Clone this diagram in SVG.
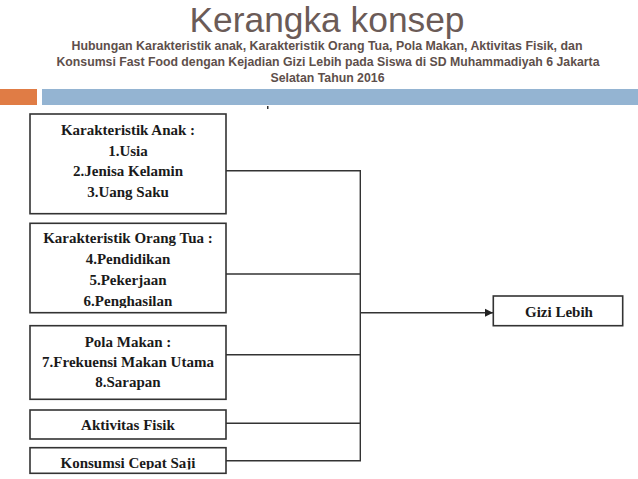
<svg xmlns="http://www.w3.org/2000/svg" width="638" height="479" viewBox="0 0 638 479">
<defs>
<style>
.title{font-family:"Liberation Sans",Arial,sans-serif;font-size:35px;fill:#6b5b57;text-anchor:middle}
.sub{font-family:"Liberation Sans Narrow","Liberation Sans",Arial,sans-serif;font-size:12.5px;font-weight:bold;fill:#5e4f4b;text-anchor:middle}
.box{fill:#fff;stroke:#333;stroke-width:1.6}
.lbl{font-family:"Liberation Serif","Times New Roman",serif;font-size:15px;font-weight:bold;fill:#1a1a1a;text-anchor:middle}
.conn{fill:none;stroke:#333;stroke-width:1.4}
</style>
<marker id="arr" markerWidth="9" markerHeight="9" refX="8" refY="4.5" orient="auto" markerUnits="userSpaceOnUse">
<path d="M0,0.5 L8,4.5 L0,8.5 Z" fill="#222"/>
</marker>
<clipPath id="c2"><rect x="30" y="223" width="196" height="85"/></clipPath>
<clipPath id="c5"><rect x="30" y="448" width="196" height="21.5"/></clipPath>
</defs>
<rect width="638" height="479" fill="#fff"/>
<g id="header">
<text class="title" x="327" y="32" textLength="275" lengthAdjust="spacingAndGlyphs">Kerangka konsep</text>
<text class="sub" x="327" y="50" textLength="511" lengthAdjust="spacingAndGlyphs">Hubungan Karakteristik anak, Karakteristik Orang Tua, Pola Makan, Aktivitas Fisik, dan</text>
<text class="sub" x="328" y="66" textLength="543" lengthAdjust="spacingAndGlyphs">Konsumsi Fast Food dengan Kejadian Gizi Lebih pada Siswa di SD Muhammadiyah 6 Jakarta</text>
<text class="sub" x="327.5" y="81.5" textLength="114" lengthAdjust="spacingAndGlyphs">Selatan Tahun 2016</text>
<rect x="0" y="89" width="37" height="16" fill="#e07c45"/>
<rect x="42" y="89" width="596" height="16" fill="#94b4d2"/>
<rect x="267" y="106" width="1.5" height="3" fill="#333"/>
</g>
<g id="connectors">
<polyline class="conn" points="226,170.7 360.3,170.7 360.3,460.7 226,460.7"/>
<line class="conn" x1="226" y1="274" x2="360.3" y2="274"/>
<line class="conn" x1="226" y1="354.7" x2="360.3" y2="354.7"/>
<line class="conn" x1="226" y1="423.3" x2="360.3" y2="423.3"/>
<line class="conn" x1="360.3" y1="312.7" x2="493" y2="312.7" marker-end="url(#arr)"/>
</g>
<g id="node-anak">
<rect class="box" x="30" y="114" width="196" height="99.7"/>
<text class="lbl" x="128" y="135">Karakteristik Anak :</text>
<text class="lbl" x="128" y="155.5">1.Usia</text>
<text class="lbl" x="128" y="176">2.Jenisa Kelamin</text>
<text class="lbl" x="128" y="196.7">3.Uang Saku</text>
</g>
<g id="node-ortu">
<rect class="box" x="30" y="223.3" width="196" height="89.4"/>
<g clip-path="url(#c2)">
<text class="lbl" x="128" y="243.3">Karakteristik Orang Tua :</text>
<text class="lbl" x="128" y="264.3">4.Pendidikan</text>
<text class="lbl" x="128" y="285">5.Pekerjaan</text>
<text class="lbl" x="128" y="305.7">6.Penghasilan</text>
</g>
</g>
<g id="node-pola">
<rect class="box" x="30" y="325.7" width="196" height="73.6"/>
<text class="lbl" x="128" y="346.7">Pola Makan :</text>
<text class="lbl" x="128" y="366.7">7.Frekuensi Makan Utama</text>
<text class="lbl" x="128" y="386.7">8.Sarapan</text>
</g>
<g id="node-aktivitas">
<rect class="box" x="30" y="410" width="196" height="29"/>
<text class="lbl" x="128" y="430">Aktivitas Fisik</text>
</g>
<g id="node-konsumsi">
<rect class="box" x="30" y="447.7" width="196" height="25.6"/>
<g clip-path="url(#c5)">
<text class="lbl" x="128" y="467.7">Konsumsi Cepat Saji</text>
</g>
</g>
<g id="node-gizi">
<rect class="box" x="493.3" y="296" width="129.4" height="29.7"/>
<text class="lbl" x="559" y="316.7">Gizi Lebih</text>
</g>
</svg>
